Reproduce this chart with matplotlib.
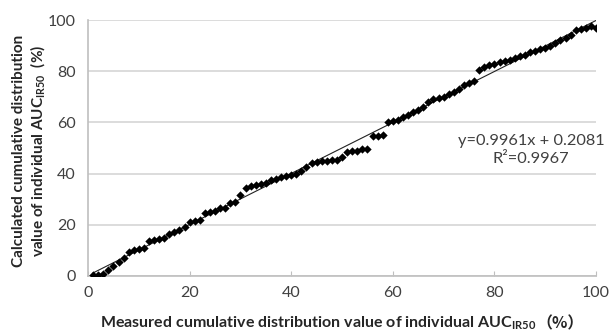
import numpy as np
import matplotlib
matplotlib.use('Agg')
import matplotlib.pyplot as plt

plt.rcParams['font.family'] = ['Lato', 'Noto Sans CJK SC', 'DejaVu Sans']
plt.rcParams['mathtext.fontset'] = 'custom'
plt.rcParams['mathtext.rm'] = 'Lato'
plt.rcParams['mathtext.bf'] = 'Lato:bold'

# Measured vs calculated cumulative distribution (%)
measured = list(range(1, 101))
calculated = [
    0.3, 0.5, 0.8, 2.5, 4.0, 5.5, 7.0, 9.5, 10.0, 10.5,
    11.0, 13.5, 14.0, 14.5, 15.0, 16.5, 17.0, 18.0, 19.0, 21.0,
    21.5, 22.0, 24.5, 25.0, 25.5, 26.5, 26.5, 28.5, 29.0, 31.5,
    34.5, 35.0, 35.5, 36.0, 36.5, 37.5, 38.0, 38.5, 39.0, 39.5,
    40.0, 41.0, 42.5, 44.0, 44.5, 45.0, 45.0, 45.5, 45.5, 46.5,
    48.5, 49.0, 49.0, 49.5, 49.5, 54.5, 54.5, 55.0, 60.0, 60.5,
    61.0, 62.0, 63.0, 64.0, 65.0, 66.0, 68.0, 69.0, 69.5, 70.0,
    71.0, 72.0, 73.0, 74.5, 75.5, 76.0, 80.5, 81.5, 82.5, 83.0,
    83.5, 84.0, 84.5, 85.0, 86.0, 86.5, 87.5, 88.0, 88.5, 89.0,
    90.0, 91.0, 92.0, 93.0, 94.0, 96.0, 96.5, 97.0, 97.5, 97.0,
]

# Linear trendline reported on the chart
slope = 0.9961
intercept = 0.2081
r_squared = 0.9967

ticks = [0, 20, 40, 60, 80, 100]

fig = plt.figure(figsize=(6.13, 3.32), dpi=100)
ax = fig.add_axes([0.1436, 0.1687, 0.8287, 0.771])

ax.scatter(measured, calculated, marker='D', s=18, color='black', zorder=3, linewidths=0)

xs = np.array([min(measured), max(measured)])
ax.plot(xs, slope * xs + intercept, color='#222222', linewidth=0.8, zorder=2)

ax.set_xlim(0, 100)
ax.set_ylim(0, 100)
ax.set_xticks(ticks)
ax.set_yticks(ticks)
ax.yaxis.grid(True, color='#d9d9d9', linewidth=1.3)
ax.set_axisbelow(True)
for side in ['top', 'right']:
    ax.spines[side].set_visible(False)
for side in ['left', 'bottom']:
    ax.spines[side].set_color('#bfbfbf')
    ax.spines[side].set_linewidth(1.2)
ax.tick_params(axis='x', direction='in', length=3.5, color='#bfbfbf', labelsize=11.5,
               labelcolor='#404040', pad=7)
ax.tick_params(axis='y', length=0, labelsize=11.5, labelcolor='#404040', pad=9)

# x label: main part + full-width parentheses (CJK font) placed right after it
xl = fig.text(100 / 613, 5 / 332,
              r'Measured cumulative distribution value of individual AUC$_{\mathbf{IR50}}$',
              ha='left', va='baseline', fontsize=11.5, fontweight='bold', color='#262626')
fig.canvas.draw()
ax.annotate('（%）', xy=(1, 0), xycoords=xl, xytext=(0, 0), textcoords='offset points',
            ha='left', va='bottom', fontsize=11.5, fontweight='bold', color='#262626',
            family=['Noto Sans CJK SC', 'DejaVu Sans'])

ax.set_ylabel('Calculated cumulative distribution\n'
              r'value of individual AUC$_{\mathbf{IR50}}$  (%)',
              fontsize=11, fontweight='bold', color='#262626', linespacing=1.2)
ax.yaxis.set_label_coords(-0.079, 0.49)

ax.text(87.2, 49.2, f'y=0.9961x + 0.2081\nR²={r_squared}', ha='center', va='center',
        fontsize=11.8, color='#404040', linespacing=1.3)

fig.savefig('out.png', dpi=100)
